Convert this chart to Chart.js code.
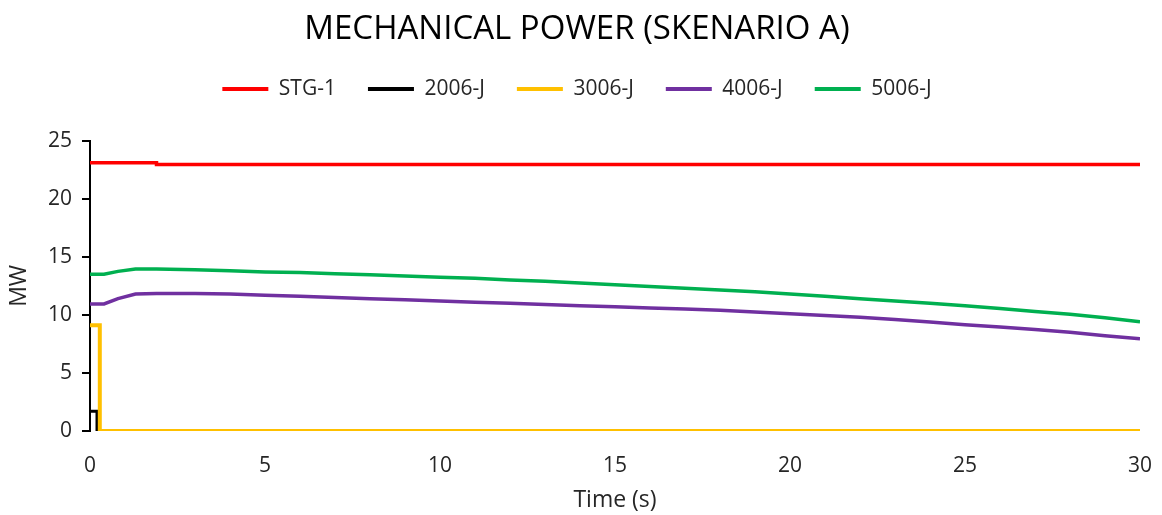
<!DOCTYPE html>
<html>
<head>
<meta charset="utf-8">
<script src="https://cdn.jsdelivr.net/npm/chart.js@4.4.1/dist/chart.umd.min.js"></script>
<style>
  html, body { margin: 0; padding: 0; background: #fff; }
  #wrap { width: 1162px; height: 515px; }
</style>
</head>
<body>
<div id="wrap"><canvas id="c" width="1162" height="515"></canvas></div>
<script>
const time   = [0, 0.2, 0.2, 0.28, 0.28, 0.4, 0.8, 1.3, 1.9, 1.9, 3, 4, 5, 6, 7, 8, 9, 10, 11, 12, 13, 14, 15, 16, 17, 18, 19, 20, 21, 22, 23, 24, 25, 26, 27, 28, 29, 30];
const stg1   = [23.1, 23.1, 23.1, 23.1, 23.1, 23.1, 23.1, 23.1, 23.1, 22.95, 22.95, 22.95, 22.95, 22.95, 22.95, 22.95, 22.95, 22.95, 22.95, 22.95, 22.95, 22.95, 22.95, 22.95, 22.95, 22.95, 22.95, 22.95, 22.95, 22.95, 22.95, 22.95, 22.95, 22.95, 22.95, 22.95, 22.95, 22.95];
const j2006  = [1.7, 1.7, 0, 0, 0, 0, 0, 0, 0, 0, 0, 0, 0, 0, 0, 0, 0, 0, 0, 0, 0, 0, 0, 0, 0, 0, 0, 0, 0, 0, 0, 0, 0, 0, 0, 0, 0, 0];
const j3006  = [9.1, 9.1, 9.1, 9.1, 0, 0, 0, 0, 0, 0, 0, 0, 0, 0, 0, 0, 0, 0, 0, 0, 0, 0, 0, 0, 0, 0, 0, 0, 0, 0, 0, 0, 0, 0, 0, 0, 0, 0];
const j4006  = [10.95, 10.95, 10.95, 10.95, 10.95, 10.95, 11.4, 11.8, 11.85, 11.85, 11.85, 11.8, 11.7, 11.6, 11.5, 11.4, 11.3, 11.2, 11.1, 11.0, 10.9, 10.8, 10.7, 10.6, 10.5, 10.4, 10.25, 10.1, 9.95, 9.8, 9.6, 9.4, 9.15, 8.95, 8.75, 8.5, 8.2, 7.95];
const j5006  = [13.5, 13.5, 13.5, 13.5, 13.5, 13.5, 13.75, 13.95, 13.95, 13.95, 13.9, 13.8, 13.7, 13.65, 13.55, 13.45, 13.35, 13.25, 13.15, 13.0, 12.9, 12.75, 12.6, 12.45, 12.3, 12.15, 12.0, 11.8, 11.6, 11.4, 11.2, 11.0, 10.8, 10.55, 10.3, 10.05, 9.75, 9.4];
const seriesNames = ['STG-1', '2006-J', '3006-J', '4006-J', '5006-J'];
const seriesColors = ['#FF0000', '#000000', '#FFC000', '#7030A0', '#00B050'];
const seriesWidths = [3.5, 3, 4, 3.5, 3.5];
const xTicks = [0, 5, 10, 15, 20, 25, 30];
const yTicks = [0, 5, 10, 15, 20, 25];

const allSeries = [stg1, j2006, j3006, j4006, j5006];
const FONT = '"Open Sans", "Noto Sans", sans-serif';
const TXT = '#262626';

const datasets = allSeries.map((vals, i) => ({
  label: seriesNames[i],
  data: vals.map((v, k) => ({ x: time[k], y: v })),
  borderColor: seriesColors[i],
  backgroundColor: seriesColors[i],
  borderWidth: seriesWidths[i],
  pointRadius: 0,
  tension: 0,
  fill: false,
  order: i === 1 ? 1 : 0
}));

new Chart(document.getElementById('c'), {
  type: 'line',
  data: { datasets },
  options: {
    responsive: false,
    animation: false,
    layout: { padding: { left: 10, right: 18, top: 0, bottom: 0 } },
    plugins: {
      title: {
        display: true,
        text: 'MECHANICAL POWER (SKENARIO A)',
        color: '#000',
        font: { family: FONT, size: 33, weight: 'normal' },
        padding: { top: 10, bottom: -3 }
      },
      subtitle: {
        display: true,
        text: '',
        weight: 500,
        font: { family: FONT, size: 1 },
        padding: { top: 30, bottom: 0 }
      },
      legend: {
        display: true,
        position: 'top',
        labels: {
          color: TXT,
          font: { family: FONT, size: 21 },
          boxWidth: 46,
          boxHeight: 4,
          padding: 32,
          sort: (a, b) => a.datasetIndex - b.datasetIndex,
          generateLabels: (chart) => Chart.defaults.plugins.legend.labels.generateLabels(chart)
            .map(l => Object.assign(l, { lineWidth: 0 }))
        }
      },
      tooltip: { enabled: false }
    },
    scales: {
      x: {
        type: 'linear',
        min: 0, max: 30,
        afterBuildTicks: (s) => { s.ticks = xTicks.map(v => ({ value: v })); },
        afterFit: (s) => { s.height = 84; s.paddingRight = 22; },
        ticks: { color: TXT, font: { family: FONT, size: 21 }, padding: 22, maxRotation: 0 },
        grid: { display: false, drawTicks: false },
        border: { display: false },
        title: { display: true, text: 'Time (s)', color: TXT, font: { family: FONT, size: 23 }, padding: { top: 8, bottom: 1 } }
      },
      y: {
        type: 'linear',
        min: 0, max: 25,
        afterBuildTicks: (s) => { s.ticks = yTicks.map(v => ({ value: v })); },
        afterFit: (s) => { s.width = 80; },
        ticks: { color: TXT, font: { family: FONT, size: 21 }, padding: 10 },
        grid: { display: true, drawOnChartArea: false, drawTicks: true, tickLength: 8, color: '#000', lineWidth: 2 },
        border: { display: true, color: '#000', width: 2 },
        title: { display: true, text: 'MW', color: TXT, font: { family: FONT, size: 23 }, padding: { top: -4, bottom: 0 } }
      }
    }
  }
});
</script>
</body>
</html>
